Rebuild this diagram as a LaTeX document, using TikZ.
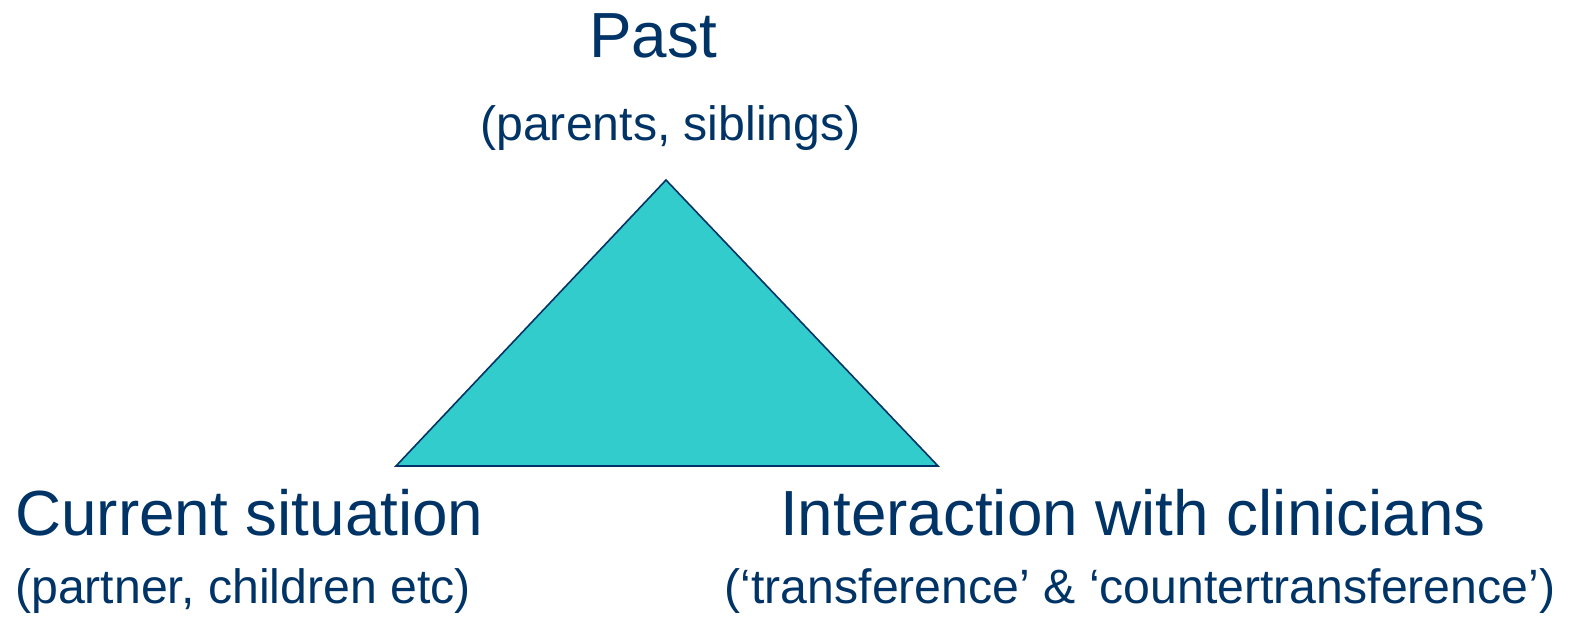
\documentclass[tikz,border=0pt]{standalone}
\usepackage{fontspec}
\setmainfont{Liberation Sans}
\definecolor{navy}{RGB}{0,51,102}
\definecolor{teal}{RGB}{51,204,204}
\begin{document}
\begin{tikzpicture}[x=1pt,y=-1pt,
  head/.style={text=navy,inner sep=0pt,anchor=base,font=\fontsize{63.8}{63.8}\selectfont},
  sub/.style={text=navy,inner sep=0pt,anchor=base,font=\fontsize{48.2}{48.2}\selectfont}]
\useasboundingbox[fill=white] (0,0) rectangle (1574,616);
% triangle
\coordinate (apex) at (666,180);
\coordinate (bl) at (396,466);
\coordinate (br) at (938,466);
\filldraw[fill=teal,draw=navy,line width=1.6pt,line join=miter] (apex) -- (br) -- (bl) -- cycle;
% labels
\node[head] (past) at (653,57) {Past};
\node[sub] (pastsub) at (670.5,140) {(parents, siblings)};
\node[head] (cur) at (249.5,535) {Current situation};
\node[sub] (cursub) at (243,603) {(partner, children etc)};
\node[head] (inter) at (1133,535) {Interaction with clinicians};
\node[sub] (intersub) at (1140,603) {(‘transference’ \& ‘countertransference’)};
\end{tikzpicture}
\end{document}
